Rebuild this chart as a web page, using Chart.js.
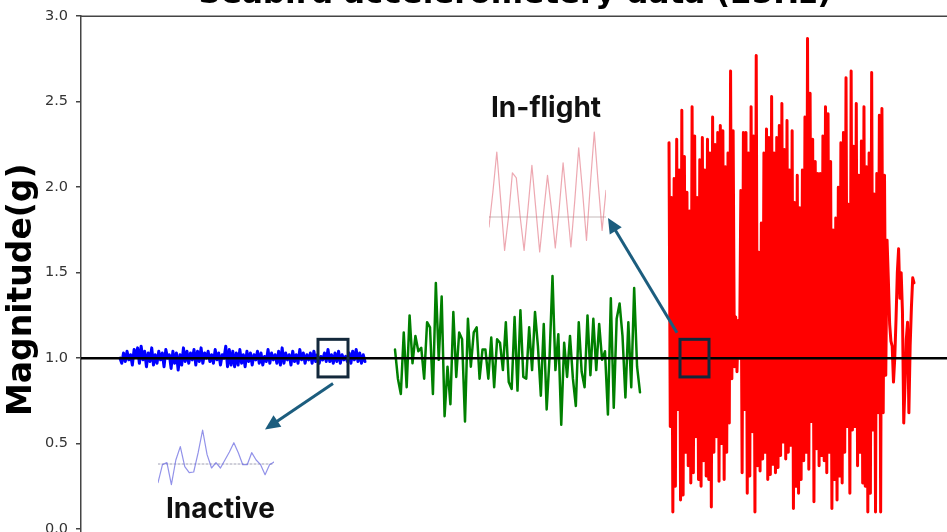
<!DOCTYPE html>
<html>
<head>
<meta charset="utf-8">
<script src="https://cdn.jsdelivr.net/npm/chart.js@4.4.1/dist/chart.umd.min.js"></script>
<style>
  html, body { margin: 0; padding: 0; background: #fff; overflow: hidden; }
  #stage { position: relative; width: 947px; height: 532px; overflow: hidden; }
  #mainWrap { position: absolute; left: 0; top: -40px; }
  .inset { position: absolute; }
  .tag {
    position: absolute; white-space: nowrap; color: #111;
    font-family: Inter, "Open Sans", sans-serif; font-weight: 700;
    font-size: 28px; line-height: 28px;
  }
</style>
</head>
<body>
<div id="stage">
  <div id="mainWrap"><canvas id="chartMain" width="960" height="620"></canvas></div>
  <canvas id="chartInactive" class="inset" width="116" height="62" style="left:158px;top:428px"></canvas>
  <canvas id="chartFlight" class="inset" width="117" height="125" style="left:489px;top:130px"></canvas>
  <div class="tag" style="left:491px;top:93px">In-flight</div>
  <div class="tag" style="left:166px;top:494px">Inactive</div>
</div>
<script>
const TITLE   = "Seabird accelerometery data (25Hz)";
const Y_LABEL = "Magnitude(g)";
const yTicks  = [0.0, 0.5, 1.0, 1.5, 2.0, 2.5, 3.0];
const restingG = 1.0;

// time axis (samples), and where each behaviour segment sits on it
const timeRange = [0, 868];
const blueSpan  = [39, 284];
const greenSpan = [314, 559];
const redSpan   = [588, 833];

const blueVals = [
  1.00,0.97,1.03,0.98,1.04,0.99,1.02,0.96,1.05,1.01,1.06,0.97,1.07,0.99,1.04,0.95,1.03,0.98,1.06,0.96,
  1.02,0.97,1.04,0.99,1.03,0.95,1.05,1.00,1.02,0.94,1.04,0.97,1.03,0.93,1.02,0.96,1.06,0.98,1.04,0.97,
  1.03,0.99,1.05,0.96,1.04,0.98,1.06,0.97,1.03,1.00,1.04,0.98,1.02,0.97,1.05,0.99,1.03,0.96,1.02,1.00,
  1.07,0.95,1.05,0.96,1.04,0.95,1.03,0.96,1.05,0.97,1.02,0.95,1.04,0.98,1.03,0.96,1.02,0.99,1.04,0.97,
  1.03,0.96,1.01,0.98,1.05,0.97,1.03,0.99,1.02,0.97,1.04,0.96,1.06,0.97,1.03,0.99,1.02,0.96,1.04,0.98,
  1.02,0.97,1.05,0.99,1.03,0.97,1.02,0.99,1.03,0.97,1.04,0.98,1.02,0.97,1.01,0.99,1.03,0.98,1.05,0.98,
  1.02,0.97,1.03,0.98,1.04,0.97,1.02,0.99,1.01,0.98,1.03,0.97,1.04,0.99,1.05,0.98,1.03,0.97,1.02,0.98
];

const greenVals = [
  1.05,0.88,0.79,1.15,0.83,1.25,0.97,1.13,1.04,1.06,
  0.88,1.21,1.18,0.79,1.44,0.99,1.36,0.66,0.95,0.73,
  1.27,0.89,1.15,1.11,0.63,1.23,0.95,1.15,1.18,0.88,
  1.05,1.05,0.88,1.12,0.83,1.11,1.09,0.93,1.21,0.86,
  0.82,1.24,0.81,1.28,0.89,0.88,1.18,0.93,1.27,1.07,
  0.78,1.20,0.70,1.01,1.48,0.93,1.14,0.61,1.09,0.89,
  1.13,0.88,0.72,1.21,0.92,0.83,1.25,0.90,1.23,0.93,
  1.20,0.99,1.04,0.67,1.35,0.71,1.23,1.32,1.13,0.77,
  1.21,0.83,1.41,0.95,0.80
];

const redVals = [
  2.26,0.60,1.94,0.10,2.05,0.25,2.28,0.70,2.10,0.17,2.45,0.20,2.18,0.45,1.97,0.37,1.86,0.27,2.47,0.33,
  2.30,0.54,1.94,0.29,2.16,0.25,2.29,0.40,2.10,0.31,2.28,0.29,2.20,0.13,2.41,0.45,2.25,0.54,2.32,0.28,
  2.36,0.50,2.33,0.29,2.12,0.45,2.20,0.62,2.68,0.88,2.33,0.95,1.24,0.92,1.22,1.00,1.98,0.33,2.32,0.70,
  2.32,0.21,2.20,0.31,2.47,0.57,2.30,0.10,2.77,0.37,1.62,0.34,1.79,0.41,2.20,0.45,2.34,0.29,2.29,0.32,
  2.53,0.38,2.20,0.33,2.29,0.36,2.36,0.43,2.49,0.51,2.22,0.41,2.39,0.45,2.10,0.49,2.33,0.12,1.91,0.25,
  2.07,0.21,1.88,0.29,2.10,0.40,2.41,0.45,2.87,0.35,2.55,0.63,2.28,0.16,2.15,0.47,2.08,0.37,2.08,0.43,
  2.30,0.40,2.47,0.33,2.43,0.45,2.15,0.12,1.75,0.29,1.82,0.17,2.00,0.31,2.26,0.27,2.32,0.45,2.64,0.60,
  1.90,0.21,2.68,0.58,2.24,0.60,2.49,0.37,2.07,0.45,2.27,0.27,2.47,0.25,2.12,0.10,2.20,0.21,2.67,0.58,
  1.96,0.10,2.08,0.68,2.42,0.10,2.46,0.68,2.07,0.90,1.69,1.46,1.20,1.10,1.07,0.86,1.00,1.23,1.50,1.64,
  1.35,1.50,1.27,0.62,0.85,1.11,1.21,0.68,1.07,1.30,1.47,1.44
];

// zoomed-in snippets shown as insets
const inactiveZoom = [
  0.972,0.999,1.002,0.969,1.006,1.026,0.996,0.987,0.988,1.017,1.051,1.014,0.994,1.002,
  0.994,1.006,1.018,1.032,1.017,0.999,0.999,1.017,1.006,0.999,0.984,0.999,1.003
];
const flightZoom = [
  0.88,1.30,1.78,1.20,0.60,1.00,1.53,1.47,1.00,0.60,1.10,1.62,1.10,0.58,1.05,1.50,
  1.10,0.63,1.10,1.65,1.15,0.64,1.20,1.83,1.30,0.72,1.40,2.02,1.40,0.84,1.32
];

// boxes and arrows, in data units
const zoomBoxes = [
  { x: [237, 267], y: [0.89, 1.11] },
  { x: [599, 628], y: [0.89, 1.11] }
];
const zoomArrows = [
  { from: [252, 0.852], to: [184, 0.583] },
  { from: [596, 1.149], to: [527, 1.82] }
];

function toPoints(vals, span) {
  const step = (span[1] - span[0]) / (vals.length - 1);
  return vals.map((v, i) => ({ x: span[0] + i * step, y: v }));
}

const notesPlugin = {
  id: "notes",
  afterDatasetsDraw(chart) {
    const { ctx, chartArea: a, scales: { x, y } } = chart;
    ctx.save();
    ctx.strokeStyle = "#444";
    ctx.lineWidth = 1.5;
    ctx.beginPath();
    ctx.moveTo(a.left, a.top);
    ctx.lineTo(a.right, a.top);
    ctx.stroke();

    ctx.strokeStyle = "#13283b";
    ctx.lineWidth = 3;
    zoomBoxes.forEach(b => {
      const x0 = x.getPixelForValue(b.x[0]), x1 = x.getPixelForValue(b.x[1]);
      const y0 = y.getPixelForValue(b.y[1]), y1 = y.getPixelForValue(b.y[0]);
      ctx.strokeRect(x0, y0, x1 - x0, y1 - y0);
    });

    ctx.strokeStyle = "#1c5d7e";
    ctx.fillStyle = "#1c5d7e";
    zoomArrows.forEach(ar => {
      const sx = x.getPixelForValue(ar.from[0]), sy = y.getPixelForValue(ar.from[1]);
      const ex = x.getPixelForValue(ar.to[0]),   ey = y.getPixelForValue(ar.to[1]);
      const ang = Math.atan2(ey - sy, ex - sx);
      const head = 15;
      ctx.beginPath();
      ctx.moveTo(sx, sy);
      ctx.lineTo(ex - Math.cos(ang) * head * 0.8, ey - Math.sin(ang) * head * 0.8);
      ctx.stroke();
      ctx.beginPath();
      ctx.moveTo(ex, ey);
      ctx.lineTo(ex - head * Math.cos(ang) + 7 * Math.sin(ang), ey - head * Math.sin(ang) - 7 * Math.cos(ang));
      ctx.lineTo(ex - head * Math.cos(ang) - 7 * Math.sin(ang), ey - head * Math.sin(ang) + 7 * Math.cos(ang));
      ctx.closePath();
      ctx.fill();
    });
    ctx.restore();
  }
};

const lineStyle = { pointRadius: 0, tension: 0, borderJoinStyle: "round", borderCapStyle: "round" };

new Chart(document.getElementById("chartMain").getContext("2d"), {
  type: "line",
  data: {
    datasets: [
      { ...lineStyle, label: "1 g", order: 0, borderColor: "#000", borderWidth: 2.5,
        data: [{ x: timeRange[0], y: restingG }, { x: timeRange[1], y: restingG }] },
      { ...lineStyle, label: "inactive", order: 1, borderColor: "#0000ff", borderWidth: 3,
        data: toPoints(blueVals, blueSpan) },
      { ...lineStyle, label: "green", order: 1, borderColor: "#008000", borderWidth: 2.5,
        data: toPoints(greenVals, greenSpan) },
      { ...lineStyle, label: "in-flight", order: 1, borderColor: "#ff0000", borderWidth: 3,
        data: toPoints(redVals, redSpan) }
    ]
  },
  options: {
    responsive: false,
    animation: false,
    events: [],
    layout: { padding: { top: 16, right: 11, bottom: 16, left: 0 } },
    plugins: {
      legend: { display: false },
      tooltip: { enabled: false },
      title: {
        display: true, text: TITLE, fullSize: false, color: "#000",
        font: { family: "DejaVu Sans", size: 31, weight: "bold" },
        padding: { top: 0, bottom: 3 }
      }
    },
    scales: {
      x: { type: "linear", display: false, min: timeRange[0], max: timeRange[1] },
      y: {
        min: -0.2, max: 3.0,
        afterBuildTicks: s => { s.ticks = yTicks.map(v => ({ value: v })); },
        afterFit: s => { s.width = 81; },
        border: { display: true, color: "#444", width: 1.5 },
        grid: { display: true, drawOnChartArea: false, drawTicks: true, tickLength: 5, color: "#444", lineWidth: 1.5 },
        ticks: {
          padding: 8, color: "#333",
          font: { family: "DejaVu Sans", size: 14.5 },
          callback: v => Number(v).toFixed(1)
        },
        title: {
          display: true, text: Y_LABEL, color: "#000",
          font: { family: "DejaVu Sans", size: 33, weight: "bold" },
          padding: { top: 3, bottom: 0 }
        }
      }
    }
  },
  plugins: [notesPlugin]
});

function insetChart(id, vals, lo, hi, color, refColor, refDash) {
  const n = vals.length;
  new Chart(document.getElementById(id).getContext("2d"), {
    type: "line",
    data: {
      datasets: [
        { ...lineStyle, order: 1, borderColor: refColor, borderWidth: 1, borderDash: refDash,
          data: [{ x: 0, y: restingG }, { x: n - 1, y: restingG }] },
        { ...lineStyle, order: 0, borderColor: color, borderWidth: 1.2,
          data: vals.map((v, i) => ({ x: i, y: v })) }
      ]
    },
    options: {
      responsive: false,
      animation: false,
      events: [],
      layout: { padding: 0 },
      plugins: { legend: { display: false }, tooltip: { enabled: false } },
      scales: {
        x: { type: "linear", display: false, min: 0, max: n - 1 },
        y: { display: false, min: lo, max: hi }
      }
    }
  });
}

insetChart("chartInactive", inactiveZoom, 0.961, 1.054, "rgba(110,110,225,0.75)", "rgba(120,120,150,0.7)", [2, 2]);
insetChart("chartFlight", flightZoom, 0.544, 2.044, "rgba(225,110,125,0.6)", "rgba(150,130,130,0.55)", []);
</script>
</body>
</html>
